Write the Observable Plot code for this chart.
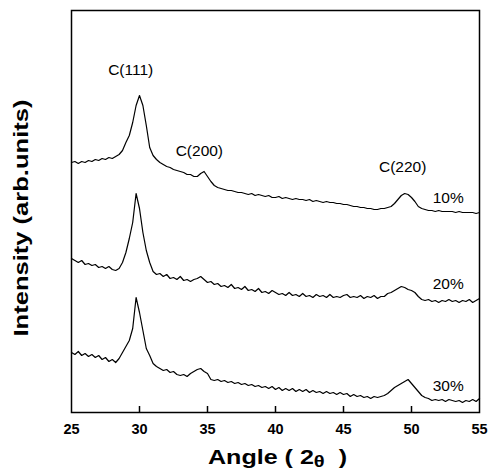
<!DOCTYPE html>
<html>
<head>
<meta charset="utf-8">
<script src="https://cdn.jsdelivr.net/npm/d3@7"></script>
<script src="https://cdn.jsdelivr.net/npm/@observablehq/plot@0.6"></script>
<style>
  html, body { margin: 0; padding: 0; background: #fff; }
  svg { display: block; }
</style>
</head>
<body>
<div id="chart"></div>
<script>
// 2θ angle (degrees)
const angles = [
  25.00,25.25,25.50,25.75,26.00,26.25,26.50,26.75,27.00,27.25,27.50,27.75,
  28.00,28.25,28.50,28.75,29.00,29.25,29.50,29.75,30.00,30.25,30.50,30.75,
  31.00,31.25,31.50,31.75,32.00,32.25,32.50,32.75,33.00,33.25,33.50,33.75,
  34.00,34.25,34.50,34.75,35.00,35.25,35.50,35.75,36.00,36.25,36.50,36.75,
  37.00,37.25,37.50,37.75,38.00,38.25,38.50,38.75,39.00,39.25,39.50,39.75,
  40.00,40.25,40.50,40.75,41.00,41.25,41.50,41.75,42.00,42.25,42.50,42.75,
  43.00,43.25,43.50,43.75,44.00,44.25,44.50,44.75,45.00,45.25,45.50,45.75,
  46.00,46.25,46.50,46.75,47.00,47.25,47.50,47.75,48.00,48.25,48.50,48.75,
  49.00,49.25,49.50,49.75,50.00,50.25,50.50,50.75,51.00,51.25,51.50,51.75,
  52.00,52.25,52.50,52.75,53.00,53.25,53.50,53.75,54.00,54.25,54.50,54.75,
  55.00
];
// Intensity (arb. units, offset traces)
const int10 = [
  250,251,249,251,250,252,251,253,252,254,253,255,
  254,256,258,262,270,277,290,307,317,307,287,265,
  257,253,250,248,246,245,243,242,241,240,238,238,
  236,236,239,241,236,231,227,225,224,223,222,222,
  221,220,220,219,218,219,217,218,217,216,217,215,
  215,216,214,215,214,213,214,213,213,212,213,211,
  212,211,210,211,210,210,209,209,208,208,207,206,
  206,205,205,204,204,203,203,204,204,205,206,209,
  213,217,219,218,215,211,206,204,203,202,202,201,
  202,201,201,201,201,200,201,200,200,200,200,199,
  200
];
const int20 = [
  154,152,150,152,148,149,147,148,145,146,144,146,
  143,142,144,150,160,174,190,219,204,180,162,150,
  141,138,139,136,138,134,135,133,136,132,133,131,
  133,134,136,133,130,131,128,129,126,127,125,128,
  124,125,123,126,122,123,121,124,120,121,119,122,
  120,118,119,117,120,117,118,116,119,116,117,115,
  118,116,117,115,118,115,116,115,117,118,115,116,
  115,117,114,116,115,117,114,116,116,119,120,122,
  124,126,125,123,122,120,116,113,112,113,111,112,
  110,112,111,113,111,112,110,112,111,113,110,112,
  114
];
const int30 = [
  60,58,61,57,59,56,58,55,57,53,55,51,
  53,50,54,60,66,72,84,115,100,82,64,57,
  49,46,44,42,43,40,41,38,37,38,36,39,
  41,43,44,41,39,33,32,33,31,32,30,31,
  29,30,28,29,27,28,26,27,25,26,24,26,
  23,25,22,24,22,24,21,23,21,23,20,22,
  20,21,19,21,19,20,18,20,18,19,16,18,
  16,17,15,16,14,16,15,16,17,19,22,25,
  27,29,31,33,29,25,21,17,15,14,12,13,
  12,13,11,13,12,11,12,10,12,11,13,11,
  14
];
const seriesNames = ["10%", "20%", "30%"];
const xTicks = [25, 30, 35, 40, 45, 50, 55];
const innerTicks = [30, 35, 40, 45, 50];

// annotations (data coordinates)
const peakLabels = ["C(111)", "C(200)", "C(220)"];
const peakAngles = [29.35, 34.4, 49.35];
const peakIntensity = [342, 261, 245];
const seriesLabelAngle = [52.7, 52.7, 52.7];
const seriesLabelIntensity = [214, 128, 26];
const tickLength = 6; // arb. units (scale is 1 unit per px)

const rows = [];
[int10, int20, int30].forEach((arr, s) => {
  arr.forEach((v, i) => rows.push({series: seriesNames[s], angle: angles[i], intensity: v}));
});
const peaks = peakLabels.map((t, i) => ({t, x: peakAngles[i], y: peakIntensity[i]}));
const sLabels = seriesNames.map((t, i) => ({t, x: seriesLabelAngle[i], y: seriesLabelIntensity[i]}));

const font = "'Liberation Sans', Arial, Helvetica, sans-serif";

const chart = Plot.plot({
  width: 488,
  height: 476,
  marginTop: 10,
  marginBottom: 64,
  marginLeft: 71,
  marginRight: 9,
  style: {fontFamily: font, background: "white", color: "black"},
  x: {domain: [25, 55]},
  y: {domain: [0, 402]},
  marks: [
    Plot.axisX({ticks: xTicks, tickSize: 0, tickPadding: 11, tickFormat: d => String(d),
      fontSize: 14.5, fontWeight: "bold", label: null}),
    Plot.axisY({ticks: [], label: null}),
    Plot.ruleX(innerTicks, {x: d => d, y1: 0, y2: tickLength, stroke: "black", strokeWidth: 1.5}),
    Plot.line(rows, {x: "angle", y: "intensity", z: "series", stroke: "black", strokeWidth: 1.2, strokeLinejoin: "round"}),
    Plot.text(peaks, {x: "x", y: "y", text: "t", fontSize: 15.5, fill: "black"}),
    Plot.text(sLabels, {x: "x", y: "y", text: "t", fontSize: 15.5, fill: "black"}),
    Plot.frame({stroke: "black", strokeWidth: 1.5})
  ]
});

document.getElementById("chart").appendChild(chart);

const svg = d3.select(chart);

// axis titles as real text
svg.append("text")
  .attr("x", 277.5).attr("y", 464)
  .attr("text-anchor", "middle")
  .attr("font-family", font)
  .attr("font-weight", "bold")
  .attr("font-size", 20)
  .attr("fill", "black")
  .attr("textLength", 139)
  .attr("lengthAdjust", "spacingAndGlyphs")
  .call(t => {
    t.append("tspan").text("Angle ( 2");
    t.append("tspan").attr("font-size", 16).attr("dy", 3).text("θ");
    t.append("tspan").attr("dy", -3).text("\u00a0\u00a0)");
  });

svg.append("text")
  .attr("transform", "translate(28,218) rotate(-90)")
  .attr("text-anchor", "middle")
  .attr("font-family", font)
  .attr("font-weight", "bold")
  .attr("font-size", 21)
  .attr("fill", "black")
  .attr("textLength", 237)
  .attr("lengthAdjust", "spacingAndGlyphs")
  .text("Intensity (arb.units)");
</script>
</body>
</html>
